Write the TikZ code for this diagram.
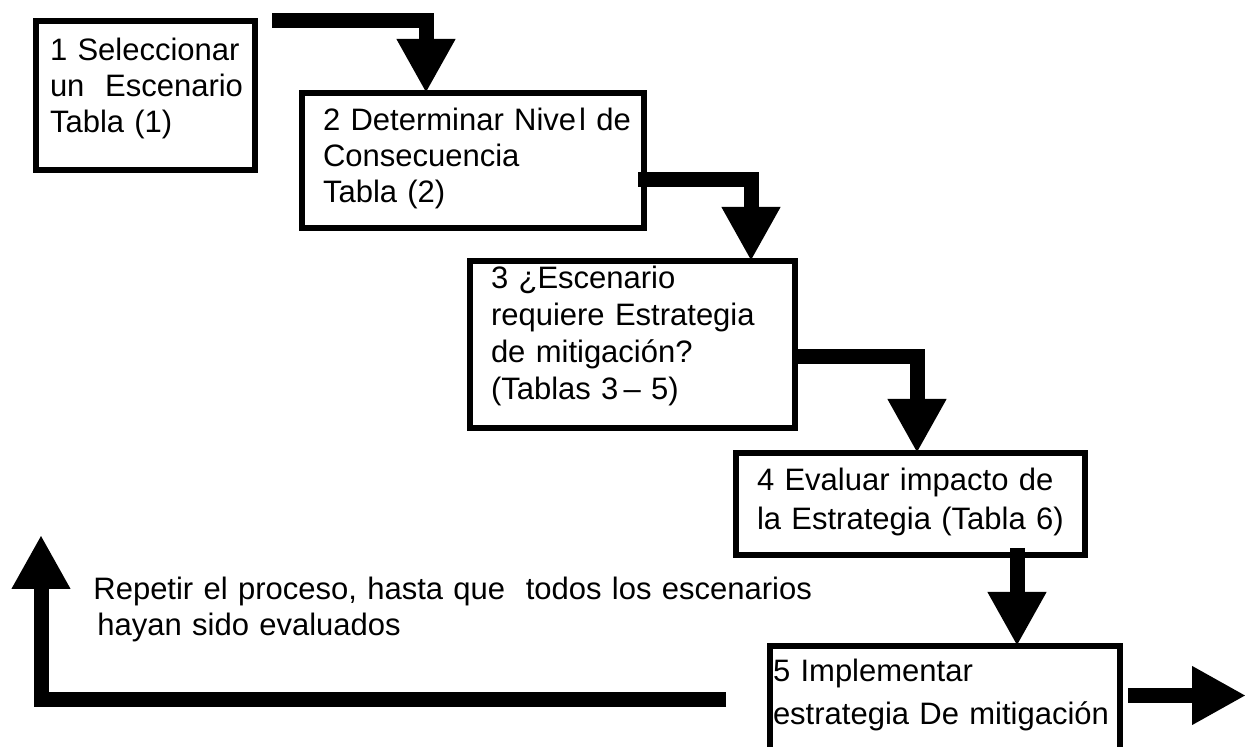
\documentclass[tikz,border=0pt]{standalone}
\usepackage{fontspec}
\setmainfont{Liberation Sans}
\usetikzlibrary{arrows.meta,calc}
\hyphenpenalty=10000

\tikzset{
  caja/.style={draw, line width=2.8pt, rectangle, anchor=north west,
    outer sep=0pt, inner ysep=0pt, inner xsep=10.5pt, align=left,
    font=\fontsize{15.5}{18}\selectfont},
  flecha/.style={line width=7.5pt, line join=miter,
    -{Triangle[width=27.5pt,length=27pt]}}
}

\begin{document}
\begin{tikzpicture}[x=0.5pt, y=-0.5pt]
    \path[use as bounding box, clip] (0, 0) rectangle (1248, 747);

    % cajas del proceso
    \node[caja, inner xsep=7pt, text width=95.5pt, text height=20pt, text depth=54.5pt]
      (b1) at (36, 21) {1 Seleccionar\\un~~Escenario\\Tabla (1)};
    \node[caja, text width=150pt, text height=19pt, text depth=48.5pt]
      (b2) at (302, 93) {2~Determinar~Nive\kern1.5pt l~de\\Consecuencia\\Tabla (2)};
    \node[caja, text width=141.5pt, text height=14pt, text depth=69.5pt,
      font=\fontsize{15.5}{18.5}\selectfont]
      (b3) at (470, 261) {3 ¿Escenario\\requiere Estrategia\\de mitigación?\\(Tablas 3\,– 5)};
    \node[caja, text width=153.5pt, text height=19pt, text depth=32pt,
      font=\fontsize{15.5}{19.5}\selectfont]
      (b4) at (736, 453) {4 Evaluar impacto de\\la~Estrategia~(Tabla~6)};
    \node[caja, inner xsep=1.5pt, text width=172pt, text height=18pt, text depth=36pt,
      font=\fontsize{15.5}{21.5}\selectfont]
      (b5) at (770, 646) {5 Implementar\\estrategia De mitigación};

    % texto de la vuelta
    \node[anchor=base west, inner sep=0pt, text width=420pt, align=left,
      font=\fontsize{15.5}{18}\selectfont]
      (texto) at (93, 600) {Repetir el proceso, hasta que~~todos los escenarios\\\hspace*{2pt}hayan sido evaluados};

    \coordinate (salida) at (1246, 695.5);
    \coordinate (retorno) at (41, 535);

    % flechas
    \draw[flecha] ($(b1.north east)+(17, 0)$) -| ($(b2.north west)+(124, 0)$);
    \draw[flecha] ($(b2.east)+(-6, 19.5)$) -| ($(b3.north west)+(281, 0)$);
    \draw[flecha] ($(b3.east)+(0, 12)$) -| ($(b4.north west)+(181, 0)$);
    \draw[flecha] ($(b4.south west)+(281, -7)$) -- ($(b5.north west)+(247, 0)$);
    \draw[flecha] ($(b5.east)+(8, -4.5)$) -- (salida);
    \draw[flecha] ($(b5.west)+(-44, 0)$) -| (retorno);

\end{tikzpicture}
\end{document}
